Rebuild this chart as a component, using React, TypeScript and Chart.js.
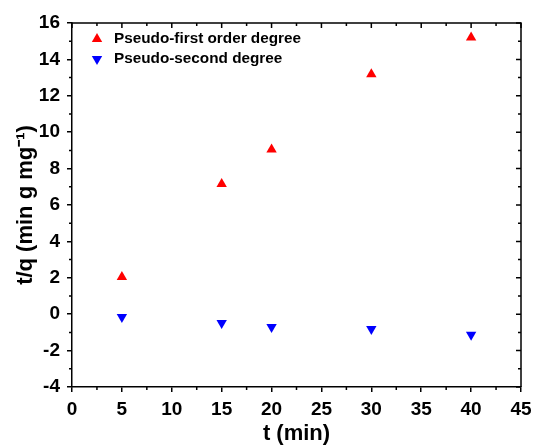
import React, { useEffect, useRef } from "react";
import { Chart, registerables } from "chart.js";

Chart.register(...registerables);

const timeFirst = [5, 15, 20, 30, 40];
const firstOrder = [2.05, 7.15, 9.05, 13.18, 15.2];
const timeSecond = [5, 15, 20, 30, 40];
const secondOrder = [-0.15, -0.48, -0.7, -0.82, -1.13];
const seriesNames = ["Pseudo-first order degree", "Pseudo-second degree"];
const xTitle = "t (min)";
const yTitle = "t/q (min g mg\u207B\u00B9)";

const FONT = "'Liberation Sans', Arial, sans-serif";

const ticksPlugin = {
  id: "extraTicks",
  afterDraw(chart: any) {
    const { ctx, chartArea, scales } = chart;
    const xs = scales.x;
    const ys = scales.y;
    ctx.save();
    ctx.strokeStyle = "#000";
    ctx.lineWidth = 1.5;
    ctx.beginPath();
    for (let v = xs.min; v <= xs.max + 1e-9; v += 2.5) {
      const px = xs.getPixelForValue(v);
      const major = Math.abs(v / 5 - Math.round(v / 5)) < 1e-6;
      const len = major ? 5 : 3;
      ctx.moveTo(px, chartArea.top);
      ctx.lineTo(px, chartArea.top + len);
      if (!major) {
        ctx.moveTo(px, chartArea.bottom);
        ctx.lineTo(px, chartArea.bottom + len);
      }
    }
    for (let v = ys.min; v <= ys.max + 1e-9; v += 1) {
      const py = ys.getPixelForValue(v);
      const major = Math.abs(v / 2 - Math.round(v / 2)) < 1e-6;
      const len = major ? 5 : 3;
      ctx.moveTo(chartArea.right, py);
      ctx.lineTo(chartArea.right - len, py);
      if (!major) {
        ctx.moveTo(chartArea.left, py);
        ctx.lineTo(chartArea.left - len, py);
      }
    }
    ctx.stroke();
    ctx.beginPath();
    ctx.moveTo(chartArea.left, chartArea.top);
    ctx.lineTo(chartArea.right, chartArea.top);
    ctx.lineTo(chartArea.right, chartArea.bottom);
    ctx.stroke();
    ctx.restore();
  },
};

const legendPlugin = {
  id: "insideLegend",
  afterDraw(chart: any) {
    const { ctx, chartArea } = chart;
    ctx.save();
    const items = [
      { text: seriesNames[0], color: "#ff0000", rot: 0 },
      { text: seriesNames[1], color: "#0000ff", rot: 180 },
    ];
    items.forEach((it, i) => {
      const cx = chartArea.left + 25;
      const cy = chartArea.top + 16 + i * 20;
      ctx.fillStyle = it.color;
      ctx.beginPath();
      const r = 6;
      const dir = it.rot === 0 ? -1 : 1;
      ctx.moveTo(cx, cy + dir * r);
      ctx.lineTo(cx - r * 0.866, cy - dir * r * 0.5);
      ctx.lineTo(cx + r * 0.866, cy - dir * r * 0.5);
      ctx.closePath();
      ctx.fill();
      ctx.fillStyle = "#000";
      ctx.font = `bold 15.3px ${FONT}`;
      ctx.textBaseline = "middle";
      ctx.textAlign = "left";
      ctx.fillText(it.text, cx + 17, cy);
    });
    ctx.restore();
  },
};

export default function App() {
  const ref = useRef<HTMLCanvasElement>(null);
  useEffect(() => {
    document.body.style.margin = "0";
    const chart = new Chart(ref.current!, {
      type: "scatter",
      data: {
        datasets: [
          {
            label: seriesNames[0],
            data: timeFirst.map((t, i) => ({ x: t, y: firstOrder[i] })),
            pointStyle: "triangle",
            pointRadius: 6,
            backgroundColor: "#ff0000",
            borderColor: "#ff0000",
            borderWidth: 0,
          },
          {
            label: seriesNames[1],
            data: timeSecond.map((t, i) => ({ x: t, y: secondOrder[i] })),
            pointStyle: "triangle",
            rotation: 180,
            pointRadius: 6,
            backgroundColor: "#0000ff",
            borderColor: "#0000ff",
            borderWidth: 0,
          },
        ],
      },
      options: {
        animation: false,
        responsive: false,
        layout: { padding: { left: 0, top: 23, right: 15, bottom: 0 } },
        plugins: { legend: { display: false }, tooltip: { enabled: false } },
        scales: {
          x: {
            type: "linear",
            min: 0,
            max: 45,
            afterFit: (s: any) => {
              s.height = 59;
              s.paddingLeft = 0;
              s.paddingRight = 0;
            },
            ticks: {
              stepSize: 5,
              padding: 6,
              color: "#000",
              font: { family: FONT, weight: "bold", size: 19 },
            },
            grid: {
              drawOnChartArea: false,
              drawTicks: true,
              tickLength: 5,
              color: "#000",
              lineWidth: 1.5,
            },
            border: { display: true, color: "#000", width: 1.5 },
            title: {
              display: true,
              text: xTitle,
              color: "#000",
              padding: { top: 0, bottom: -1 },
              font: { family: FONT, weight: "bold", size: 22 },
            },
          },
          y: {
            type: "linear",
            min: -4,
            max: 16,
            afterFit: (s: any) => {
              s.width = 72;
              s.paddingTop = 0;
              s.paddingBottom = 0;
            },
            ticks: {
              stepSize: 2,
              padding: 7,
              color: "#000",
              font: { family: FONT, weight: "bold", size: 19 },
            },
            grid: {
              drawOnChartArea: false,
              drawTicks: true,
              tickLength: 5,
              color: "#000",
              lineWidth: 1.5,
            },
            border: { display: true, color: "#000", width: 1.5 },
            title: {
              display: true,
              text: yTitle,
              color: "#000",
              padding: { top: 13, bottom: 0 },
              font: { family: FONT, weight: "bold", size: 22 },
            },
          },
        },
      },
      plugins: [ticksPlugin, legendPlugin],
    } as any);
    return () => chart.destroy();
  }, []);
  return <canvas ref={ref} width={536} height={446} style={{ display: "block" }} />;
}
